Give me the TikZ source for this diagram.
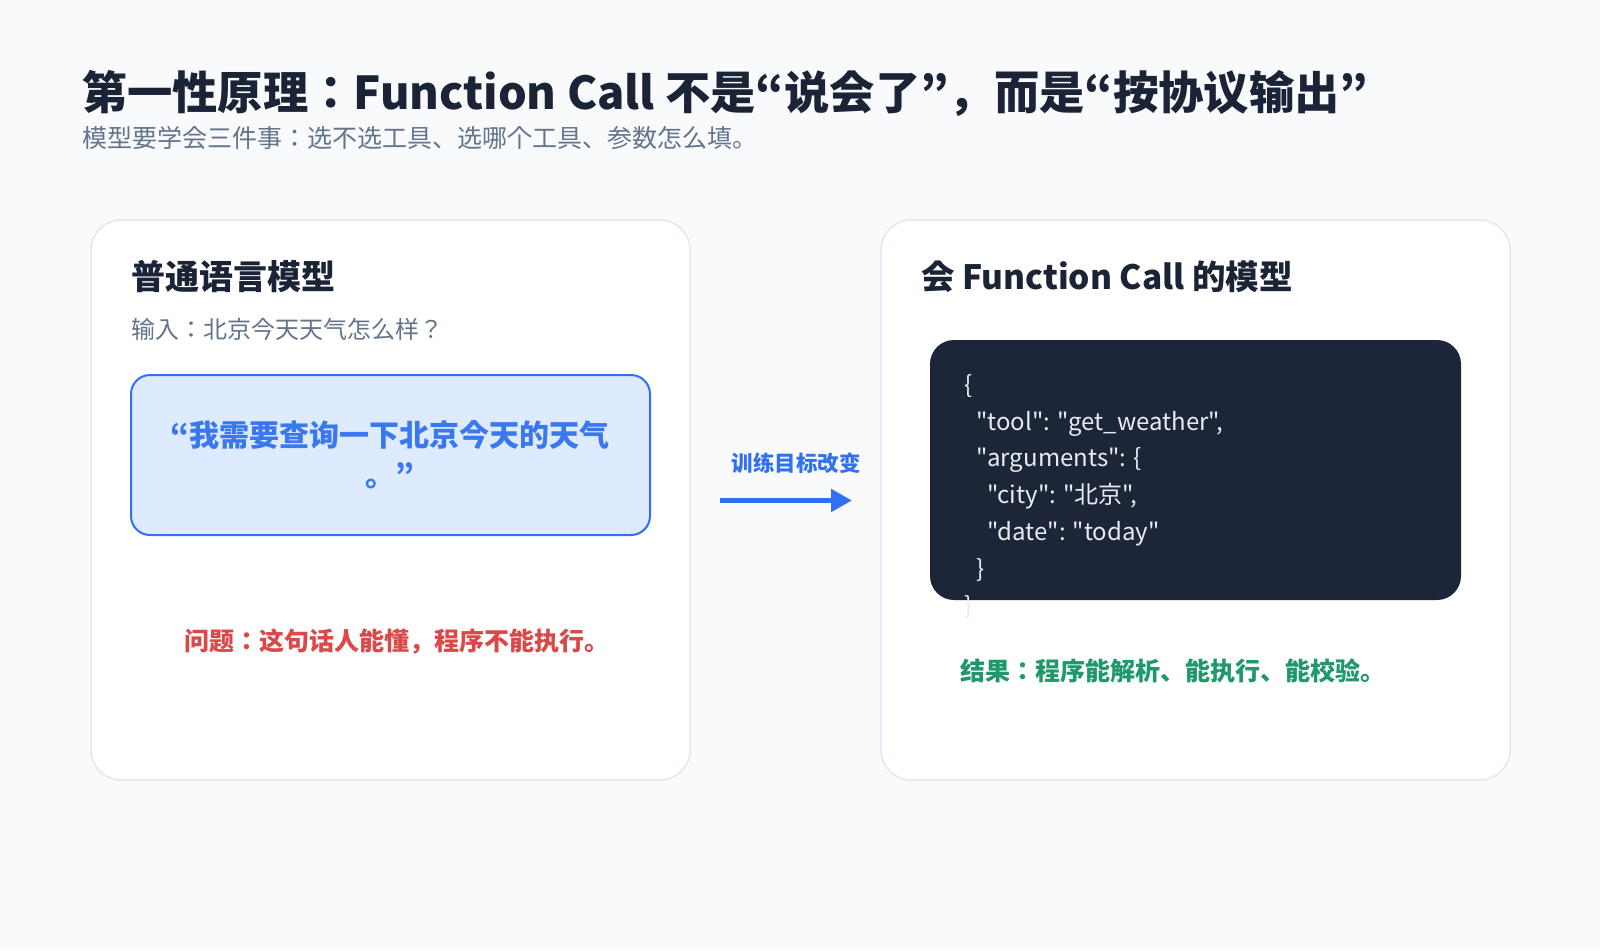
\documentclass[tikz,border=0pt]{standalone}
\usepackage{fontspec}
\setmainfont{Noto Sans CJK JP}
\newfontfamily\codefont{Noto Sans CJK JP}
\usetikzlibrary{arrows.meta}
\definecolor{bg}{HTML}{F8FAFC}
\definecolor{cardborder}{HTML}{E2E8F0}
\definecolor{titlec}{HTML}{1B2437}
\definecolor{subc}{HTML}{64748B}
\definecolor{bluefill}{HTML}{DEEAFE}
\definecolor{blueline}{HTML}{3170F0}
\definecolor{bluetext}{HTML}{3A78EF}
\definecolor{redc}{HTML}{DC4848}
\definecolor{greenc}{HTML}{1F986A}
\definecolor{darkbox}{HTML}{1D2538}
\definecolor{codec}{HTML}{E8ECF2}
\newcommand{\fsz}[1]{\fontsize{#1}{#1}\selectfont}
\tikzset{
  txt/.style={inner sep=0pt, outer sep=0pt, anchor=base west},
  card/.style={draw=cardborder, line width=1.5pt, fill=white, rounded corners=30pt, inner sep=0pt},
  bluebox/.style={draw=blueline, line width=2pt, fill=bluefill, rounded corners=19pt, inner sep=0pt},
  codebox/.style={fill=darkbox, rounded corners=24pt, inner sep=0pt},
  codeline/.style={txt, text=codec, font=\codefont\fsz{24}},
  flow/.style={draw=blueline, line width=5pt, -{Triangle[length=21pt,width=22pt]}}
}
\begin{document}
\begin{tikzpicture}[x=1pt,y=-1pt]
\useasboundingbox (0,0) rectangle (1600,950);
\fill[bg] (0,0) rectangle (1600,950);
% title
\node[txt, text=titlec, font=\fsz{45.3}\bfseries] (title) at (82,109) {第一性原理：Function Call 不是“说会了”，而是“按协议输出”};
\node[txt, text=subc, font=\fsz{25}] (sub) at (82,147) {模型要学会三件事：选不选工具、选哪个工具、参数怎么填。};
% cards
\node[card, minimum width=599pt, minimum height=560pt] (L) at (390.5,500) {};
\node[card, minimum width=629pt, minimum height=560pt] (R) at (1195.5,500) {};
% left card
\node[txt, text=titlec, font=\fsz{34}\bfseries] (lt) at (131,289) {普通语言模型};
\node[txt, text=subc, font=\fsz{24}] (lin) at (131,338) {输入：北京今天天气怎么样？};
\node[bluebox, minimum width=519pt, minimum height=160pt] (bb) at (390.5,455) {};
\node[inner sep=0pt, anchor=base, text=bluetext, font=\fsz{30}\bfseries] (bq1) at (390,446) {“我需要查询一下北京今天的天气};
\node[inner sep=0pt, anchor=base, text=bluetext, font=\fsz{30}\bfseries] (bq2) at (390,486) {。”};
\node[inner sep=0pt, anchor=base, text=redc, font=\fsz{25}\bfseries] (prob) at (397,650) {问题：这句话人能懂，程序不能执行。};
% arrow
\coordinate (a1) at (720,500.5);
\coordinate (a2) at (852,500.5);
\draw[flow] (a1) -- (a2);
\node[inner sep=0pt, anchor=base, text=blueline, font=\fsz{21.5}\bfseries] (al) at (796,471) {训练目标改变};
% right card
\node[txt, text=titlec, font=\fsz{33.5}\bfseries] (rt) at (921,289) {会 Function Call 的模型};
\node[codebox, minimum width=531pt, minimum height=260pt] (cb) at (1195.5,470) {};
\node[codeline] (c1) at (964,393) {\{};
\node[codeline] (c2) at (976,430) {"tool": "get\_weather",};
\node[codeline] (c3) at (976,466) {"arguments": \{};
\node[codeline] (c4) at (987,503) {"city": "北京",};
\node[codeline] (c5) at (987,540) {"date": "today"};
\node[codeline] (c6) at (976,577) {\}};
\node[codeline] (c7) at (964,614) {\}};
\node[inner sep=0pt, anchor=base west, text=greenc, font=\fsz{25}\bfseries] (res) at (960,680) {结果：程序能解析、能执行、能校验。};
\end{tikzpicture}
\end{document}
